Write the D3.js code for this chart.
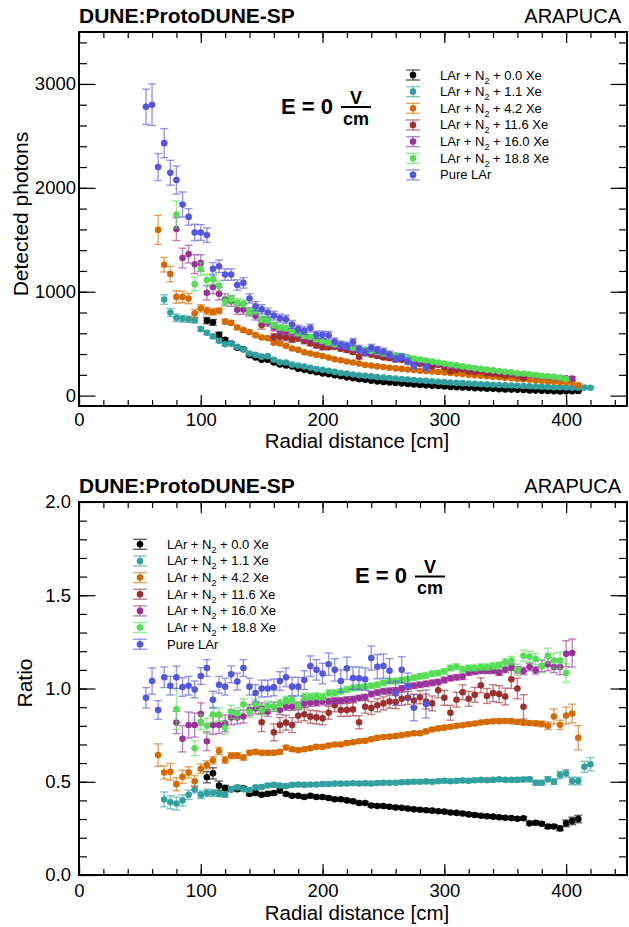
<!DOCTYPE html>
<html>
<head>
<meta charset="utf-8">
<script src="https://cdn.jsdelivr.net/npm/d3@7"></script>
<style>
  html, body { margin: 0; padding: 0; background: #fff; }
  svg { display: block; font-family: "Liberation Sans", Arial, Helvetica, sans-serif; }
</style>
</head>
<body>
<svg id="chart" width="629" height="927"></svg>
<script>
// ---------- DATA ----------
const radii = [55,60,65,70,75,80,85,90,95,100,105,110,115,120,125,130,135,140,145,150,
  155,160,165,170,175,180,185,190,195,200,205,210,215,220,225,230,235,240,245,250,
  255,260,265,270,275,280,285,290,295,300,305,310,315,320,325,330,335,340,345,350,
  355,360,365,370,375,380,385,390,395,400,405,410,415,420];

const legendLabels = ["0.0", "1.1", "4.2", "11.6", "16.0", "18.8", "Pure LAr"];
const xMajorTicks = [0, 100, 200, 300, 400];
const yTopTicks = [0, 1000, 2000, 3000];
const yRatioTicks = [0, 0.5, 1.0, 1.5, 2.0];

// first radius of each series
const seriesStart = [105, 70, 65, 150, 80, 80, 55];

// ---- Detected photons (top panel) ----
const topBlack = [722,705,585,538,503,460,447,388,368,345, 345,318,300,290,280,258,248,238,225,213,
  205,195,186,176,168,158,152,143,137,132, 127,122,117,112,108,103,99,96,92,88,
  84,81,78,75,72,70,67,65,62,60, 58,56,54,50,48,46,44,42,40,41, 43,45];
const topBlackErr = [30,28,25,16,14,12,11,10,9,9, 8,8,7,7,7,6,6,6,6,6, 5,5,5,5,5,5,5,5,5,5,
  4,4,4,4,4,4,4,4,4,4, 4,4,4,4,4,4,4,4,4,4, 4,4,4,4,4,4,4,4,4,5, 5,6];

const topTeal = [925,800,750,740,735,725,640,605,570,527, 495,505,469,443,405,392,375,380,345,320,
  318,298,290,280,268,255,248,240,228,218, 212,203,195,190,185,178,174,170,165,160,
  155,150,146,142,138,134,130,126,123,120, 117,113,110,107,104,101,99,97,95,92,
  90,87,85,84,81,80,79,76,75,77, 76];
const topTealErr = [45,40,36,32,30,26,22,20,18,16, 14,14,12,12,10,10,10,10,9,9, 8,8,8,8,7,7,7,7,6,6,
  6,6,6,6,5,5,5,5,5,5, 5,5,5,5,5,5,5,5,5,5, 5,5,5,5,5,5,5,5,5,5, 5,5,5,5,5,5,5,5,5,6, 6];

const topOrange = [1595,1260,1170,950,950,935,790,840,816,806, 816,713,700,655,630,611,582,559,553,508,
  501,479,453,440,418,405,392,382,366,350, 341,328,318,308,295,289,281,275,268,262,
  257,252,246,240,236,232,227,222,217,212, 207,202,197,192,187,182,177,172,167,162,
  157,152,147,142,137,135,128,128,125,100];
const topOrangeErr = [140,70,75,60,55,50,40,35,35,30, 28,25,22,20,18,17,16,15,14,13, 12,12,11,11,10,10,10,9,9,9,
  8,8,8,8,8,7,7,7,7,7, 7,7,7,7,7,6,6,6,6,6, 6,6,6,6,6,6,6,6,6,6, 6,6,6,6,7,8,8,10,12,14];

const topBrown = [680,null,565,566,559,541,551,525,503,482, 465,466,470,452,438,419,375,407,395,381,
  367,360,348,344,331,310,307,292,280,294, 270,237,249,252,231,228,232,213,210,205,
  193,203,191,168];
const topBrownErr = [40,null,32,30,30,28,28,26,25,24, 23,23,22,22,21,20,20,19,19,18,
  18,17,17,16,16,15,15,15,14,14, 14,13,13,13,13,12,12,12,12,12, 12,13,14,15];

const topPurple = [1603,1324,1362,1265,1276,990,1045,980,925,909, 826,829,806,768,722,703,655,623,617,607,
  585,562,548,530,515,500,485,476,463,448, 436,428,418,408,396,384,375,367,356,344,
  334,325,316,307,298,289,281,273,265,257, 250,243,236,229,222,216,210,204,198,192,
  186,181,176,171,167,165];
const topPurpleErr = [110,95,85,90,80,70,65,60,55,50, 45,45,40,40,38,36,34,32,30,30, 28,27,26,25,25,24,23,22,21,21,
  20,20,19,19,18,18,17,17,16,16, 15,15,15,14,14,14,13,13,13,12, 12,12,12,12,12,12,12,12,12,12, 12,13,13,14,15,16];

const topGreen = [1744,null,null,1073,1218,1112,1121,1057,906,928, 896,886,806,816,736,726,678,655,649,623,
  601,575,566,543,527,508,495,492,479,460, 448,444,431,421,405,395,389,380,368,356,
  347,338,328,318,309,300,291,281,273,265, 257,250,243,236,230,224,213,213,206,199,
  190,186,180,174,160];
const topGreenErr = [130,null,null,65,60,55,50,45,45,40, 38,36,34,32,30,29,28,27,26,25, 24,23,22,22,22,21,20,20,19,19,
  18,18,18,17,17,16,16,16,15,15, 15,15,14,14,14,13,13,13,12,12, 12,12,12,12,12,12,12,12,12,12, 12,12,12,12,13];

const topBlue = [2780,2800,2200,2430,2145,2075,1840,1720,1570,1570, 1545,1220,1245,1165,1165,1065,1085,935,860,830,
  800,770,745,735,685,640,625,650,585,585, 580,520,490,480,515,450,420,460,440,425,
  395,355,370,330,288,null,270];
const topBlueErr = [170,200,130,140,120,135,120,80,80,75, 70,60,60,55,55,50,50,45,45,45,
  42,42,40,40,38,38,38,38,36,36, 36,35,35,35,35,34,34,34,33,33, 33,32,32,32,32,null,32];

// ---- Ratio (bottom panel) ----
const ratioBlack = [0.524,0.545,0.479,0.466,0.46,0.46,0.465,0.435,0.44,0.43, 0.435,0.44,0.452,0.434,0.425,0.425,0.418,0.425,0.418,0.418,
  0.413,0.406,0.406,0.40,0.395,0.386,0.386,0.373,0.37,0.37, 0.366,0.362,0.36,0.356,0.352,0.35,0.347,0.345,0.342,0.34,
  0.335,0.333,0.33,0.325,0.322,0.318,0.315,0.313,0.31,0.307, 0.305,0.302,0.304,0.277,0.28,0.275,0.26,0.26,0.25,0.277, 0.29,0.30];
const ratioBlackErr = [0.03,0.03,0.025,0.015,0.012,0.01,0.01,0.01,0.01,0.009, 0.009,0.009,0.009,0.008,0.008,0.008,0.008,0.008,0.008,0.008,
  0.008,0.008,0.008,0.008,0.008,0.008,0.008,0.008,0.008,0.008, 0.008,0.008,0.008,0.008,0.008,0.008,0.008,0.008,0.008,0.008,
  0.008,0.008,0.008,0.008,0.008,0.008,0.008,0.008,0.008,0.008, 0.008,0.008,0.008,0.009,0.009,0.01,0.01,0.01,0.012,0.018, 0.02,0.02];

const ratioTeal = [0.405,0.39,0.383,0.40,0.43,0.46,0.43,0.44,0.44,0.435, 0.43,0.46,0.47,0.46,0.456,0.47,0.472,0.48,0.483,0.48,
  0.477,0.483,0.485,0.483,0.485,0.485,0.488,0.488,0.49,0.49, 0.49,0.492,0.49,0.492,0.49,0.493,0.495,0.495,0.495,0.497,
  0.498,0.5,0.5,0.502,0.5,0.503,0.505,0.503,0.505,0.507, 0.505,0.508,0.51,0.508,0.51,0.513,0.51,0.51,0.51,0.512,
  0.513,0.495,0.495,0.513,0.50,0.536,0.545,0.504,0.504,0.58, 0.594];
const ratioTealErr = [0.04,0.035,0.035,0.03,0.025,0.02,0.02,0.02,0.018,0.015, 0.013,0.012,0.012,0.011,0.011,0.01,0.01,0.01,0.01,0.01,
  0.01,0.01,0.01,0.01,0.01,0.01,0.01,0.01,0.01,0.01, 0.01,0.01,0.01,0.01,0.01,0.01,0.01,0.01,0.01,0.01,
  0.01,0.01,0.01,0.01,0.01,0.01,0.01,0.01,0.01,0.01, 0.01,0.01,0.01,0.01,0.01,0.01,0.01,0.01,0.012,0.012,
  0.012,0.012,0.012,0.014,0.015,0.02,0.02,0.02,0.02,0.03, 0.035];

const ratioOrange = [0.643,0.55,0.553,0.487,0.527,0.55,0.503,0.57,0.59,0.615, 0.665,0.617,0.64,0.64,0.63,0.655,0.66,0.655,0.655,0.655,
  0.66,0.683,0.674,0.669,0.674,0.68,0.687,0.687,0.694,0.70, 0.70,0.708,0.712,0.717,0.72,0.728,0.735,0.74,0.742,0.745,
  0.75,0.755,0.76,0.76,0.77,0.78,0.786,0.79,0.795,0.80, 0.803,0.808,0.812,0.818,0.822,0.824,0.825,0.826,0.825,0.82,
  0.817,0.815,0.813,0.81,0.80,0.85,0.805,0.855,0.866,0.736];
const ratioOrangeErr = [0.06,0.035,0.045,0.035,0.035,0.03,0.03,0.025,0.022,0.02, 0.02,0.018,0.016,0.015,0.014,0.013,0.012,0.012,0.012,0.011,
  0.011,0.011,0.01,0.01,0.01,0.01,0.01,0.01,0.01,0.01, 0.01,0.01,0.01,0.01,0.01,0.01,0.01,0.01,0.01,0.01,
  0.01,0.01,0.01,0.01,0.01,0.01,0.01,0.01,0.01,0.01, 0.01,0.01,0.01,0.01,0.01,0.01,0.01,0.01,0.012,0.012,
  0.012,0.012,0.012,0.015,0.02,0.04,0.025,0.045,0.05,0.065];

const ratioBrown = [0.819,null,0.765,0.804,0.817,0.804,0.854,0.862,0.849,0.845, 0.84,0.87,0.91,0.885,0.885,0.888,0.819,0.902,0.895,0.91,
  0.92,0.93,0.927,0.945,0.95,0.935,0.953,0.93,0.92,0.99, 0.95,0.87,0.94,0.98,0.945,0.966,1.017,0.96,0.975,0.97,
  0.957,1.05,1.0,0.902];
const ratioBrownErr = [0.05,null,0.045,0.04,0.04,0.04,0.035,0.035,0.035,0.035, 0.035,0.035,0.035,0.035,0.035,0.035,0.035,0.035,0.035,0.035,
  0.035,0.035,0.035,0.035,0.035,0.035,0.035,0.04,0.04,0.04, 0.04,0.04,0.04,0.04,0.04,0.04,0.04,0.04,0.045,0.045,
  0.045,0.05,0.055,0.065];

const ratioPurple = [0.818,0.73,0.804,0.804,0.863,0.717,0.804,0.804,0.813,0.845, 0.845,0.85,0.885,0.893,0.893,0.875,0.902,0.885,0.902,0.902,
  0.907,0.92,0.924,0.924,0.93,0.93,0.934,0.935,0.94,0.943, 0.949,0.954,0.97,0.978,0.985,0.988,0.99,1.0,1.01,1.015,
  1.02,1.025,1.03,1.035,1.045,1.055,1.06,1.063,1.085,1.09, 1.095,1.095,1.095,1.085,1.10,1.115,1.10,1.094,1.115,1.097,
  1.12,1.13,1.115,1.115,1.186,1.19];
const ratioPurpleErr = [0.06,0.07,0.07,0.065,0.06,0.05,0.05,0.045,0.045,0.04, 0.035,0.035,0.03,0.03,0.03,0.025,0.025,0.025,0.02,0.02,
  0.02,0.02,0.02,0.018,0.018,0.018,0.016,0.016,0.016,0.015, 0.015,0.015,0.015,0.015,0.015,0.015,0.015,0.015,0.015,0.015,
  0.015,0.015,0.015,0.015,0.015,0.015,0.015,0.015,0.015,0.015, 0.015,0.015,0.015,0.015,0.015,0.018,0.018,0.02,0.02,0.02,
  0.03,0.035,0.03,0.04,0.07,0.075];

const ratioGreen = [0.89,null,null,0.68,0.82,0.80,0.86,0.86,0.79,0.875, 0.866,0.915,0.875,0.915,0.885,0.907,0.902,0.92,0.938,0.94,
  0.906,0.956,0.956,0.959,0.956,0.976,0.976,0.985,0.994,1.003, 1.006,1.01,1.015,1.02,1.03,1.04,1.04,1.045,1.05,1.058,
  1.065,1.07,1.08,1.083,1.092,1.11,1.117,1.103,1.11,1.11, 1.115,1.115,1.12,1.124,1.14,1.15,1.10,1.176,1.17,1.158,
  1.12,1.176,1.15,1.15,1.083];
const ratioGreenErr = [0.11,null,null,0.04,0.04,0.04,0.04,0.035,0.035,0.035, 0.03,0.03,0.03,0.028,0.026,0.025,0.024,0.022,0.02,0.02,
  0.02,0.02,0.018,0.018,0.018,0.017,0.017,0.016,0.016,0.016, 0.015,0.015,0.015,0.015,0.015,0.015,0.015,0.015,0.015,0.015,
  0.015,0.015,0.015,0.015,0.015,0.016,0.016,0.016,0.016,0.016, 0.017,0.017,0.018,0.018,0.02,0.022,0.03,0.03,0.03,0.03,
  0.035,0.04,0.04,0.045,0.05];

const ratioBlue = [0.95,1.04,0.885,1.06,1.015,1.06,1.008,1.015,0.995,1.067, 1.11,0.94,1.02,1.01,1.076,1.037,1.11,1.01,0.976,1.0,
  1.0,1.006,1.04,1.06,1.01,1.01,1.045,1.12,1.10,1.08, 1.13,1.10,1.04,1.108,1.056,1.055,1.05,1.163,1.117,1.12,
  1.095,0.974,1.10,1.013,0.897,null,0.917];
const ratioBlueErr = [0.055,0.07,0.05,0.055,0.05,0.06,0.05,0.05,0.045,0.045, 0.045,0.045,0.045,0.045,0.045,0.045,0.045,0.045,0.045,0.045,
  0.045,0.045,0.05,0.05,0.05,0.05,0.05,0.055,0.055,0.055, 0.06,0.06,0.06,0.06,0.06,0.06,0.06,0.065,0.065,0.065,
  0.065,0.065,0.07,0.07,0.07,null,0.075];

// ---------- STYLE ----------
const colors = ["#000000", "#33a0a0", "#d46a00", "#9c3030", "#99339a", "#55dd55", "#5555e0"];
const topVals = [topBlack, topTeal, topOrange, topBrown, topPurple, topGreen, topBlue];
const topErrs = [topBlackErr, topTealErr, topOrangeErr, topBrownErr, topPurpleErr, topGreenErr, topBlueErr];
const ratVals = [ratioBlack, ratioTeal, ratioOrange, ratioBrown, ratioPurple, ratioGreen, ratioBlue];
const ratErrs = [ratioBlackErr, ratioTealErr, ratioOrangeErr, ratioBrownErr, ratioPurpleErr, ratioGreenErr, ratioBlueErr];

const svg = d3.select("#chart");
const FL = 79, FR = 627;

function points(k, vals, errs) {
  const i0 = radii.indexOf(seriesStart[k]);
  const out = [];
  vals.forEach((v, i) => {
    if (v === null) return;
    out.push({ r: radii[i0 + i], v: v, e: errs[i] });
  });
  return out;
}

function panel(cfg) {
  const x = d3.scaleLinear().domain([0, 450]).range([FL, FR]);
  const y = d3.scaleLinear().domain(cfg.yDomain).range([cfg.bottom, cfg.top]);
  const g = svg.append("g");

  // data
  for (let k = 0; k < 7; k++) {
    const pts = points(k, cfg.vals[k], cfg.errs[k]);
    const sg = g.append("g");
    const eb = sg.append("g").attr("stroke", colors[k]).attr("stroke-width", 1.4).attr("stroke-opacity", 0.6);
    pts.forEach(p => {
      const y1 = y(p.v - p.e), y2 = y(p.v + p.e), cx = x(p.r);
      eb.append("line").attr("x1", cx).attr("x2", cx).attr("y1", y1).attr("y2", y2);
      eb.append("line").attr("x1", cx - 4).attr("x2", cx + 4).attr("y1", y1).attr("y2", y1);
      eb.append("line").attr("x1", cx - 4).attr("x2", cx + 4).attr("y1", y2).attr("y2", y2);
    });
    sg.selectAll("circle").data(pts).join("circle")
      .attr("cx", d => x(d.r)).attr("cy", d => y(d.v)).attr("r", 3.3)
      .attr("fill", colors[k]);
  }

  // axes
  const minorX = d3.range(0, 451, 20);
  const addAxis = (axis, tr) => {
    const a = g.append("g").attr("transform", tr).call(axis);
    a.select(".domain").remove();
    a.selectAll("line").attr("stroke", "#000").attr("stroke-width", 1.2);
    a.selectAll("text").attr("fill", "#000").style("font-size", "18.5px")
      .style("font-family", '"Liberation Sans", Arial, sans-serif');
    return a;
  };
  addAxis(d3.axisBottom(x).tickValues(xMajorTicks).tickSize(-11).tickPadding(cfg.xPad).tickFormat(d3.format("d")), `translate(0,${cfg.bottom})`);
  addAxis(d3.axisBottom(x).tickValues(minorX).tickSize(-6).tickFormat(""), `translate(0,${cfg.bottom})`);
  addAxis(d3.axisTop(x).tickValues(xMajorTicks).tickSize(-11).tickFormat(""), `translate(0,${cfg.top})`);
  addAxis(d3.axisTop(x).tickValues(minorX).tickSize(-6).tickFormat(""), `translate(0,${cfg.top})`);
  addAxis(d3.axisLeft(y).tickValues(cfg.yTicks).tickSize(-16.5).tickPadding(cfg.yPad).tickFormat(cfg.yFmt), `translate(${FL},0)`);
  addAxis(d3.axisLeft(y).tickValues(cfg.yMinor).tickSize(-8).tickFormat(""), `translate(${FL},0)`);
  addAxis(d3.axisRight(y).tickValues(cfg.yTicks).tickSize(-16.5).tickFormat(""), `translate(${FR},0)`);
  addAxis(d3.axisRight(y).tickValues(cfg.yMinor).tickSize(-8).tickFormat(""), `translate(${FR},0)`);

  // frame
  g.append("rect").attr("x", FL).attr("y", cfg.top).attr("width", FR - FL).attr("height", cfg.bottom - cfg.top)
    .attr("fill", "none").attr("stroke", "#000").attr("stroke-width", 2);

  // titles
  g.append("text").attr("x", FL).attr("y", cfg.top - 9.5).attr("font-weight", "bold").attr("font-size", 21)
    .text("DUNE:ProtoDUNE-SP");
  g.append("text").attr("x", 621).attr("y", cfg.top - 9.5).attr("text-anchor", "end").attr("font-size", 20)
    .text("ARAPUCA");
  g.append("text").attr("x", 357).attr("y", cfg.xTitleY).attr("text-anchor", "middle").attr("font-size", 20.5)
    .text("Radial distance [cm]");
  g.append("text").attr("transform", `translate(${cfg.yTitleX},${cfg.yTitleC}) rotate(-90)`)
    .attr("text-anchor", "middle").attr("font-size", 21).text(cfg.yTitle);

  // E field label
  const e = g.append("g").attr("font-weight", "bold");
  e.append("text").attr("x", cfg.eX).attr("y", cfg.eY).attr("font-size", 22).text("E = 0");
  const fx = cfg.eX + 75;
  e.append("text").attr("x", fx).attr("y", cfg.eY - 10).attr("text-anchor", "middle").attr("font-size", 18).text("V");
  e.append("line").attr("x1", fx - 15).attr("x2", fx + 15).attr("y1", cfg.eY - 6.5).attr("y2", cfg.eY - 6.5)
    .attr("stroke", "#000").attr("stroke-width", 2);
  e.append("text").attr("x", fx).attr("y", cfg.eY + 11).attr("text-anchor", "middle").attr("font-size", 18).text("cm");

  // legend
  const lg = g.append("g");
  for (let k = 0; k < 7; k++) {
    const ly = cfg.legY + k * 16.65, lx = cfg.legX;
    const row = lg.append("g");
    const eb = row.append("g").attr("stroke", colors[k]).attr("stroke-width", 1.4).attr("stroke-opacity", 0.6);
    eb.append("line").attr("x1", lx).attr("x2", lx).attr("y1", ly - 5).attr("y2", ly + 5);
    eb.append("line").attr("x1", lx - 7).attr("x2", lx + 7).attr("y1", ly - 5).attr("y2", ly - 5);
    eb.append("line").attr("x1", lx - 7).attr("x2", lx + 7).attr("y1", ly + 5).attr("y2", ly + 5);
    row.append("circle").attr("cx", lx).attr("cy", ly).attr("r", 3.3).attr("fill", colors[k]);
    const t = row.append("text").attr("x", lx + 27).attr("y", ly + 4.5).attr("font-size", 13);
    if (k < 6) {
      t.append("tspan").text("LAr + N");
      t.append("tspan").attr("font-size", 9).attr("dy", 4).text("2");
      t.append("tspan").attr("dy", -4).text(" + " + legendLabels[k] + " Xe");
    } else {
      t.text(legendLabels[k]);
    }
  }
}

panel({
  top: 32, bottom: 406, yDomain: [-100, 3500], yTicks: yTopTicks, yMinor: d3.range(200, 3500, 200),
  yFmt: d3.format("d"), yPad: 3, xPad: 7, vals: topVals, errs: topErrs,
  xTitleY: 448, yTitle: "Detected photons", yTitleX: 28, yTitleC: 214,
  eX: 281, eY: 113.5, legX: 413, legY: 75
});
panel({
  top: 502, bottom: 875, yDomain: [0, 2], yTicks: yRatioTicks, yMinor: d3.range(0.1, 2.0, 0.1),
  yFmt: d3.format(".1f"), yPad: 8, xPad: 9, vals: ratVals, errs: ratErrs,
  xTitleY: 919.5, yTitle: "Ratio", yTitleX: 32, yTitleC: 683,
  eX: 355, eY: 583, legX: 140, legY: 544.3
});
</script>
</body>
</html>
